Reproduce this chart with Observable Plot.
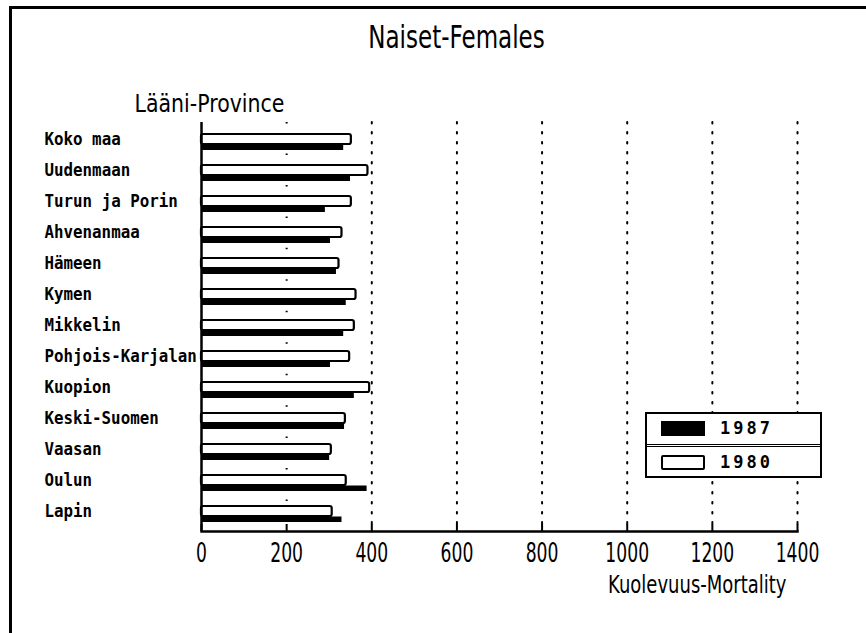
<!DOCTYPE html>
<html>
<head>
<meta charset="utf-8">
<script src="https://cdn.jsdelivr.net/npm/d3@7"></script>
<script src="https://cdn.jsdelivr.net/npm/@observablehq/plot@0.6"></script>
<style>
  html, body { margin: 0; padding: 0; background: #fff; }
  #wrap { position: relative; width: 866px; height: 633px; overflow: hidden; }
  #border { position: absolute; left: 9px; top: 6px; width: 900px; height: 700px;
            border-top: 3px solid #000; border-left: 3px solid #000; pointer-events: none; }
  #legend { position: absolute; left: 645px; top: 412px; width: 173px; height: 62px;
            border: 2px solid #000; background: #fff; font-family: "DejaVu Sans Mono", "Liberation Mono", monospace;
            font-weight: bold; font-size: 17px; }
  .row { position: absolute; left: 0; width: 173px; height: 30px; }
  .row .sw { position: absolute; left: 14px; width: 44px; height: 15px; border: 2px solid #000; box-sizing: border-box; }
  .row .lb { position: absolute; left: 73px; letter-spacing: 3px; line-height: 17px; }
  #divider { position: absolute; left: 0; top: 30px; width: 173px; height: 0; border-top: 3px double #000; }
</style>
</head>
<body>
<div id="wrap">
  <div id="chart"></div>
  <div id="border"></div>
  <div id="legend"></div>
</div>
<script>
// ---- data ----
const provinces = ["Koko maa", "Uudenmaan", "Turun ja Porin", "Ahvenanmaa", "Hämeen", "Kymen", "Mikkelin",
  "Pohjois-Karjalan", "Kuopion", "Keski-Suomen", "Vaasan", "Oulun", "Lapin"];
const v1980 = [352, 391, 352, 330, 323, 363, 359, 348, 395, 338, 305, 340, 307];
const v1987 = [334, 350, 291, 303, 317, 340, 334, 303, 359, 336, 301, 389, 330];
const years = ["1987", "1980"];
const xTicks = [0, 200, 400, 600, 800, 1000, 1200, 1400];
const gridTicks = [400, 600, 800, 1000, 1200, 1400];
const title = "Naiset-Females";
const yTitle = "Lääni-Province";
const xTitle = "Kuolevuus-Mortality";

const rows = provinces.map((p, i) => ({province: p, y1980: v1980[i], y1987: v1987[i]}));

const labelFont = '"DejaVu Sans", sans-serif';
const monoFont = '"DejaVu Sans Mono", "Liberation Mono", monospace';

const chart = Plot.plot({
  width: 866,
  height: 633,
  marginLeft: 201,
  marginRight: 69,
  marginTop: 122,
  marginBottom: 102,
  x: {domain: [0, 1400], axis: null},
  y: {domain: provinces, padding: 0, axis: null},
  marks: [
    // dotted gridlines
    Plot.ruleX(gridTicks, {stroke: "#000", strokeWidth: 2, strokeDasharray: "1.5,8.5", strokeLinecap: "round"}),
    Plot.ruleX([200], {stroke: "#000", strokeWidth: 2, strokeDasharray: "1.5,29.96"}),
    // bars
    Plot.barX(rows, {x: "y1980", y: "province", fill: "#fff", stroke: "#000", strokeWidth: 2.2,
      insetTop: 9, insetBottom: 12, rx: 2}),
    Plot.barX(rows, {x: "y1987", y: "province", fill: "#000", insetTop: 19.5, insetBottom: 6}),
    // axes lines
    Plot.ruleX([0], {stroke: "#000", strokeWidth: 2.5}),
    Plot.frame({anchor: "bottom", stroke: "#000", strokeWidth: 2.5}),
    Plot.ruleX(xTicks, {stroke: "#000", strokeWidth: 2, insetTop: 402}),
    // tick labels
    Plot.text(xTicks, {x: d => d, frameAnchor: "bottom", lineAnchor: "middle", dy: 22, text: d => String(d),
      fontFamily: labelFont, fontSize: 26, fill: "#000"}),
    // category labels
    Plot.text(rows, {y: "province", text: "province", frameAnchor: "left", textAnchor: "start", lineAnchor: "middle",
      dx: -157, dy: -1, fontFamily: monoFont, fontWeight: "bold", fontSize: 17, fill: "#000"}),
    // titles
    Plot.text([title], {frameAnchor: "top", lineAnchor: "middle", dx: -43, dy: -85, fontFamily: labelFont,
      fontSize: 32, fill: "#000"}),
    Plot.text([yTitle], {frameAnchor: "top-left", textAnchor: "middle", lineAnchor: "middle", dx: 8, dy: -19,
      fontFamily: labelFont, fontSize: 25, fill: "#000"}),
    Plot.text([xTitle], {frameAnchor: "bottom-right", textAnchor: "end", lineAnchor: "middle", dx: -11, dy: 53,
      fontFamily: labelFont, fontSize: 25, fill: "#000"})
  ]
});
document.getElementById("chart").appendChild(chart);

// narrow the plotter-style fonts to the reference widths
const squeezeFactor = new Map([
  ...xTicks.map(t => [String(t), 0.66]),
  ...provinces.map(p => [p, 0.93]),
  [title, 0.72],
  [yTitle, 0.82],
  [xTitle, 0.72]
]);
chart.querySelectorAll("text").forEach(t => {
  const f = squeezeFactor.get(t.textContent);
  if (f === undefined) return;
  const len = t.getComputedTextLength();
  t.setAttribute("textLength", (len * f).toFixed(1));
  t.setAttribute("lengthAdjust", "spacingAndGlyphs");
});

// legend
const legend = document.getElementById("legend");
years.forEach((yr, i) => {
  const row = document.createElement("div");
  row.className = "row";
  row.style.top = (i * 32) + "px";
  const sw = document.createElement("div");
  sw.className = "sw";
  sw.style.top = (i === 0 ? 7 : 9) + "px";
  sw.style.background = yr === "1987" ? "#000" : "#fff";
  if (i === 1) sw.style.borderRadius = "2px";
  const lb = document.createElement("div");
  lb.className = "lb";
  lb.style.top = (i === 0 ? 6 : 8) + "px";
  lb.textContent = yr;
  row.appendChild(sw);
  row.appendChild(lb);
  legend.appendChild(row);
});
const div = document.createElement("div");
div.id = "divider";
legend.appendChild(div);
</script>
</body>
</html>
